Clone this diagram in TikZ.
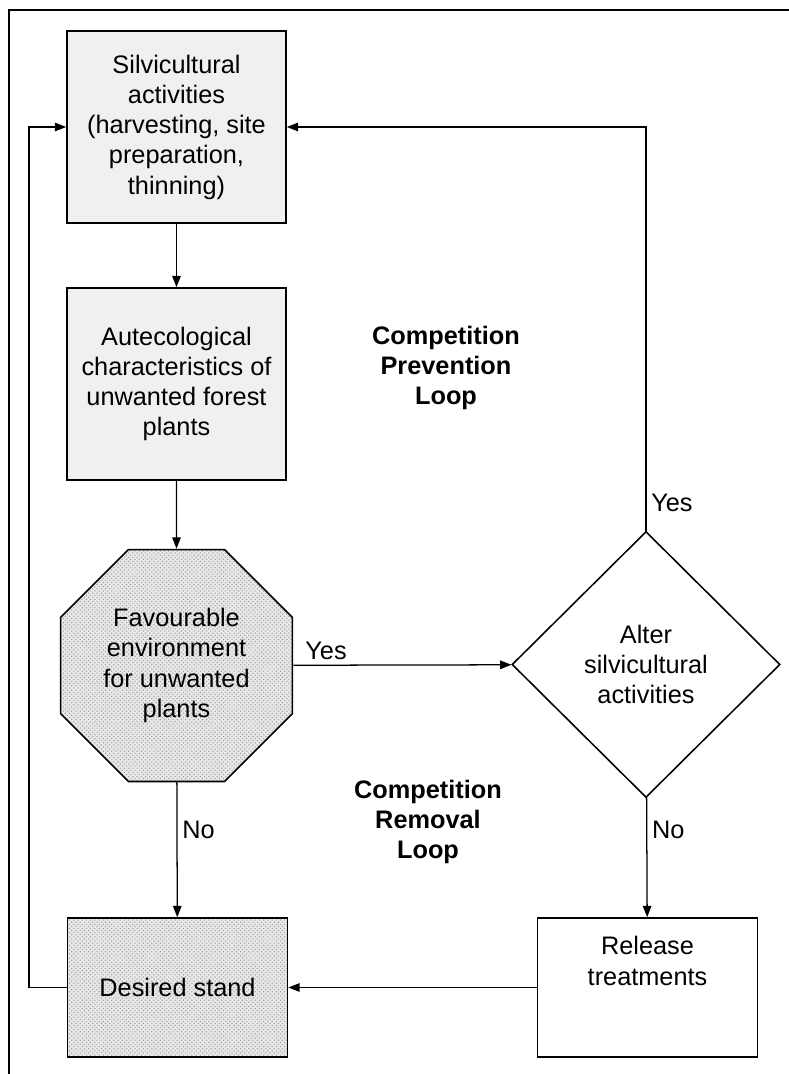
\documentclass[tikz,border=0pt]{standalone}
\usepackage{fontspec}
\setmainfont{Liberation Sans}
\usetikzlibrary{shapes.geometric, arrows.meta, positioning, patterns}

\begin{document}
\begin{tikzpicture}[x=0.025cm, y=-0.025cm,
    every node/.style={font=\fontsize{18}{21.5}\selectfont, align=center},
    box/.style={draw, line width=1.1pt, minimum width=5.475cm, minimum height=4.8cm, fill=gray!12},
    endbox/.style={draw, line width=1.1pt, minimum width=5.5cm, minimum height=3.475cm},
    dots/.style={preaction={fill=gray!18}, pattern=crosshatch dots, pattern color=gray!80},
    flow/.style={-{Triangle[length=8pt, width=6pt]}, line width=0.9pt},
    loopname/.style={font=\fontsize{18}{21.5}\selectfont\bfseries}]
    \useasboundingbox (0,0) rectangle (789,1074);
    % Frame
    \draw[line width=1.1pt] (9,1074) -- (9,10) -- (789,10);

    % Left column
    \node[box] (silvi) at (176.5,127) {Silvicultural\\activities\\(harvesting, site\\preparation,\\thinning)};
    \node[box] (autec) at (176.5,384) {Autecological\\characteristics of\\unwanted forest\\plants};
    \node[draw, line width=1.1pt, dots, regular polygon, regular polygon sides=8, minimum size=6.275cm, inner sep=0pt] (favour) at (176.5,665.5) {Favourable\\environment\\for unwanted\\plants};
    \node[endbox, dots] (desired) at (177.5,987.5) {Desired stand};

    % Right column
    \node[draw, line width=1.1pt, diamond, minimum width=6.7cm, minimum height=6.65cm, inner sep=0pt] (alter) at (646,664.5) {Alter\\silvicultural\\activities};
    \node[endbox] (release) at (647.5,987.5) {};
    \node (releasetext) at (647.5,961) {Release\\treatments};

    % Loop names
    \node[loopname] (prevention) at (446,368) {Competition\\Prevention\\Loop};
    \node[loopname] (removal) at (428,822) {Competition\\Removal\\Loop};

    % Arrows
    \draw[flow] (silvi) -- (autec);
    \draw[flow] (autec) -- (favour);
    \draw[flow] (favour) -- node[right, pos=0.35] (noleft) {No} (desired);
    \draw[flow] (favour) -- node[above, pos=0.15] (yesleft) {Yes} (alter);
    \draw[flow] (alter) -- node[right, pos=0.27] (noright) {No} (release);
    \draw[flow] (release) -- (desired);
    \draw[flow] (alter.north) -- node[right, pos=0.07] (yesright) {Yes} (alter.north |- silvi.east) -- (silvi.east);
    \draw[flow] (desired.west) -- (29,987.5) -- (29,127) -- (silvi.west);
\end{tikzpicture}
\end{document}
